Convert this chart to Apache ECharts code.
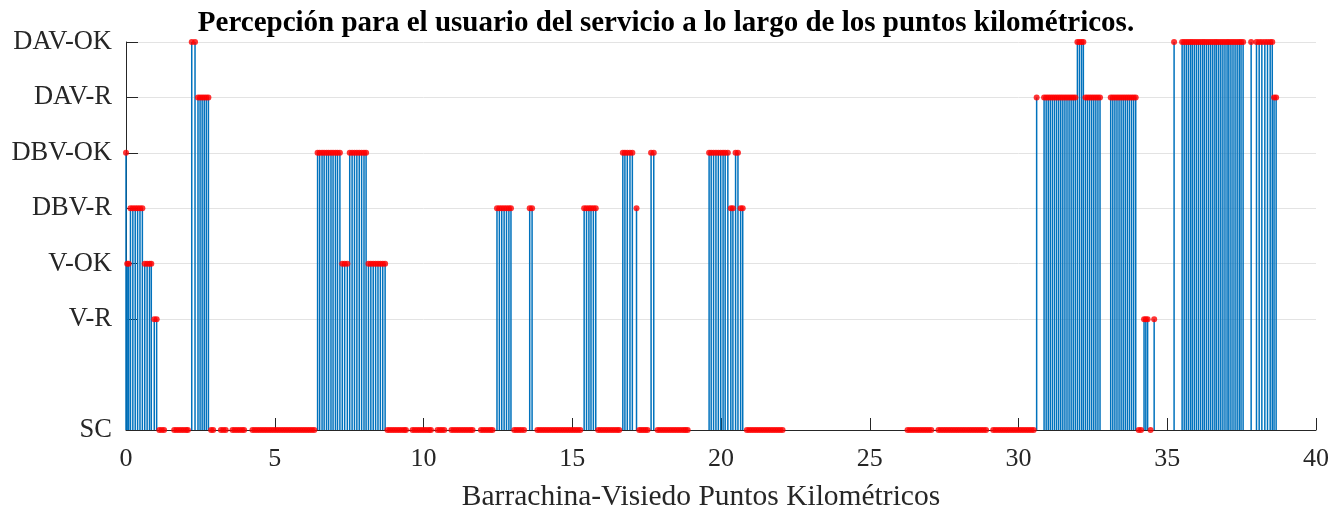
<!DOCTYPE html>
<html>
<head>
<meta charset="utf-8">
<script src="https://cdn.jsdelivr.net/npm/echarts@6/dist/echarts.min.js"></script>
<style>
  html, body { margin: 0; padding: 0; background: #fff; }
  #chart1 { width: 1332px; height: 513px; }
</style>
</head>
<body>
<div id="chart1"></div>
<script>
  // niveles de percepcion del servicio (eje y)
  var niveles = ['SC', 'V-R', 'V-OK', 'DBV-R', 'DBV-OK', 'DAV-R', 'DAV-OK'];
  var valoresNivel = [0, 2, 3, 4, 5, 6, 7];
  var ticksKm = [0, 5, 10, 15, 20, 25, 30, 35, 40];

  // puntos kilometricos medidos para cada nivel
  var pkDAVOK = [2.21, 2.32, 31.98, 32.05, 32.12, 32.18, 35.23,
    35.50, 35.57, 35.64, 35.71, 35.78, 35.84, 35.91, 35.98, 36.05, 36.12, 36.19, 36.25, 36.32,
    36.39, 36.46, 36.53, 36.60, 36.66, 36.73, 36.80, 36.87, 36.94, 37.01, 37.07, 37.14, 37.21,
    37.28, 37.35, 37.42, 37.48, 37.55, 37.82, 38.00, 38.09, 38.18, 38.28, 38.37, 38.46, 38.53];
  var pkDAVR = [2.42, 2.49, 2.56, 2.63, 2.70, 2.77, 30.61,
    30.86, 30.93, 31.00, 31.07, 31.14, 31.21, 31.28, 31.35, 31.42, 31.49, 31.56, 31.63, 31.70,
    31.77, 31.84, 31.91, 32.25, 32.32, 32.39, 32.46, 32.53, 32.60, 32.67, 32.74,
    33.10, 33.17, 33.24, 33.31, 33.38, 33.45, 33.52, 33.59, 33.66, 33.73, 33.80, 33.87, 33.94,
    38.59, 38.66];
  var pkDBVOK = [0.00, 6.44, 6.51, 6.59, 6.66, 6.74, 6.81, 6.89, 6.96, 7.04, 7.11, 7.19,
    7.52, 7.60, 7.68, 7.76, 7.84, 7.92, 8.00, 8.07, 16.70, 16.77, 16.85, 16.94, 17.02,
    17.65, 17.74, 19.60, 19.67, 19.75, 19.83, 19.91, 19.99, 20.07, 20.14, 20.23, 20.49, 20.57];
  var pkDBVR = [0.15, 0.23, 0.31, 0.39, 0.47, 0.55, 12.47, 12.55, 12.63, 12.71, 12.79, 12.87,
    12.94, 13.57, 13.65, 15.40, 15.48, 15.56, 15.63, 15.71, 15.79, 17.16, 20.33, 20.40,
    20.66, 20.73];
  var pkVOK = [0.04, 0.09, 0.63, 0.71, 0.79, 0.85, 7.27, 7.35, 7.44,
    8.15, 8.23, 8.31, 8.39, 8.47, 8.55, 8.63, 8.71];
  var pkVR = [0.95, 1.03, 34.22, 34.28, 34.34, 34.56];
  var pkSC = [1.12, 1.20, 1.28, 1.62, 1.70, 1.78, 1.86, 1.94, 2.02, 2.08, 2.86, 2.93,
    3.19, 3.27, 3.35, 3.58, 3.66, 3.74, 3.82, 3.90, 3.97,
    4.25, 4.33, 4.41, 4.49, 4.57, 4.65, 4.73, 4.81, 4.89, 4.97, 5.05, 5.13, 5.21, 5.29,
    5.37, 5.45, 5.53, 5.61, 5.69, 5.77, 5.85, 5.93, 6.01, 6.09, 6.17, 6.25, 6.33,
    8.79, 8.87, 8.95, 9.03, 9.11, 9.19, 9.27, 9.35, 9.41,
    9.63, 9.71, 9.79, 9.87, 9.95, 10.03, 10.11, 10.19, 10.25,
    10.47, 10.55, 10.62, 10.70,
    10.94, 11.02, 11.10, 11.18, 11.26, 11.34, 11.42, 11.50, 11.58, 11.65,
    11.93, 12.01, 12.09, 12.17, 12.25, 12.32,
    13.05, 13.13, 13.21, 13.29, 13.38,
    13.83, 13.91, 13.99, 14.07, 14.15, 14.23, 14.31, 14.39, 14.47, 14.55, 14.63, 14.71,
    14.79, 14.87, 14.95, 15.03, 15.11, 15.19, 15.27,
    15.87, 15.95, 16.03, 16.11, 16.19, 16.27, 16.35, 16.43, 16.51, 16.58,
    17.25, 17.32, 17.39, 17.46, 17.53,
    17.87, 17.95, 18.03, 18.11, 18.19, 18.27, 18.35, 18.43, 18.51, 18.59, 18.67, 18.75,
    18.81, 18.88,
    20.87, 20.95, 21.03, 21.11, 21.19, 21.27, 21.35, 21.43, 21.51, 21.59, 21.67, 21.75,
    21.83, 21.91, 21.99, 22.07,
    26.27, 26.35, 26.43, 26.51, 26.59, 26.67, 26.75, 26.83, 26.91, 26.99, 27.07,
    27.31, 27.39, 27.47, 27.55, 27.63, 27.71, 27.79, 27.87, 27.95, 28.03, 28.11, 28.19,
    28.27, 28.35, 28.43, 28.51, 28.59, 28.67, 28.75, 28.83, 28.91,
    29.15, 29.23, 29.31, 29.39, 29.47, 29.55, 29.63, 29.71, 29.79, 29.87, 29.95, 30.03,
    30.11, 30.19, 30.27, 30.35, 30.43, 30.51,
    34.04, 34.12, 34.44];

  var pkPorNivel = [pkSC, pkVR, pkVOK, pkDBVR, pkDBVOK, pkDAVR, pkDAVOK];

  var puntos = [];
  pkPorNivel.forEach(function (lista, i) {
    lista.forEach(function (pk) {
      puntos.push([pk, valoresNivel[i]]);
    });
  });

  var fuente = '"Liberation Serif", "Times New Roman", serif';

  const getPercepcion = chartId => {
    let myChart = echarts.init(document.getElementById(chartId));
    let option;

    option = {
      animation: false,
      title: {
        text: 'Percepción para el usuario del servicio a lo largo de los puntos kilométricos.',
        left: 'center',
        top: 4,
        textStyle: {
          fontFamily: fuente,
          fontWeight: 'bold',
          fontSize: 29,
          color: '#000'
        }
      },
      grid: {
        left: 126,
        right: 16,
        top: 42,
        bottom: 83,
        containLabel: false,
        outerBoundsMode: 'none'
      },
      xAxis: {
        type: 'value',
        min: 0,
        max: 40,
        interval: 5,
        name: 'Barrachina-Visiedo Puntos Kilométricos',
        nameLocation: 'middle',
        nameGap: 52,
        nameTextStyle: {
          fontFamily: fuente,
          fontSize: 29.5,
          color: '#262626',
          padding: [0, 40, 0, 0]
        },
        axisLine: { lineStyle: { color: '#262626', width: 1 } },
        axisTick: {
          inside: true,
          length: 12,
          customValues: ticksKm,
          lineStyle: { color: '#262626' }
        },
        axisLabel: {
          customValues: ticksKm,
          fontFamily: fuente,
          fontSize: 26,
          color: '#262626',
          margin: 16
        },
        splitLine: { show: false }
      },
      yAxis: {
        type: 'value',
        min: 0,
        max: 7,
        interval: 1,
        axisLine: { show: true, lineStyle: { color: '#262626', width: 1 } },
        axisTick: {
          inside: true,
          length: 12,
          customValues: valoresNivel,
          lineStyle: { color: '#262626' }
        },
        axisLabel: {
          customValues: valoresNivel,
          fontFamily: fuente,
          fontSize: 26.5,
          color: '#262626',
          margin: 14,
          formatter: function (v) {
            let i = valoresNivel.indexOf(v);
            return i >= 0 ? niveles[i] : '';
          }
        },
        splitLine: { show: true, lineStyle: { color: '#e3e3e3', width: 1 } }
      },
      series: [
        {
          name: 'tallos',
          type: 'custom',
          data: puntos,
          renderItem: function (params, api) {
            let base = api.coord([api.value(0), 0]);
            let tope = api.coord([api.value(0), api.value(1)]);
            return {
              type: 'line',
              shape: { x1: base[0], y1: base[1], x2: tope[0], y2: tope[1] },
              style: { stroke: '#0072bd', lineWidth: 1.5 }
            };
          },
          z: 2
        },
        {
          name: 'puntos',
          type: 'scatter',
          data: puntos,
          symbol: 'circle',
          symbolSize: 6,
          itemStyle: { color: '#ff0000' },
          z: 3
        }
      ]
    };

    option && myChart.setOption(option);
  }

  getPercepcion('chart1');
</script>
</body>
</html>
